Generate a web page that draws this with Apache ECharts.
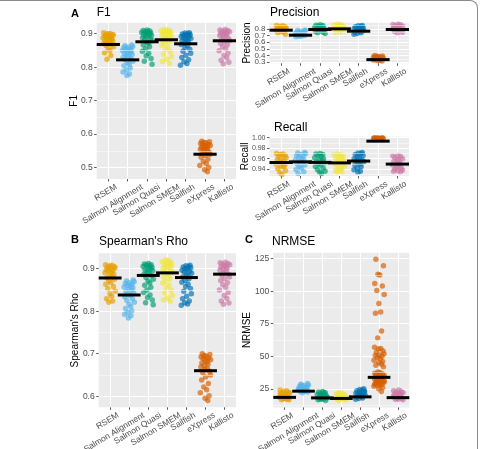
<!DOCTYPE html>
<html>
<head>
<meta charset="utf-8">
<script src="https://cdn.jsdelivr.net/npm/echarts@6/dist/echarts.min.js"></script>
<style>
html,body{margin:0;padding:0;background:#fff;}
#chart{width:480px;height:449px;}
#frame{position:absolute;left:-2px;top:0;width:480px;height:449px;box-sizing:border-box;border-top:1px solid #8a8a8a;border-right:1px solid #8a8a8a;border-top-right-radius:8px;pointer-events:none;}
</style>
</head>
<body>
<div id="chart"></div>
<div id="frame"></div>
<script>
var methods = ['RSEM', 'Salmon Alignment', 'Salmon Quasi', 'Salmon SMEM', 'Sailfish', 'eXpress', 'Kallisto'];
var colors = ['#E69F00', '#56B4E9', '#009E73', '#F0E442', '#0072B2', '#D55E00', '#CC79A7'];
// horizontal jitter offsets (in category units), read by eye
var jitter = [-0.24, 0.09, -0.04, 0.21, -0.14, 0.26, 0.01, -0.20, 0.15, -0.09, 0.06, -0.27, 0.19, -0.02,
	0.12, -0.17, 0.23, -0.06, 0.04, -0.23, 0.17, -0.12, 0.27, -0.01, 0.08, -0.19, 0.13, -0.07];

// F1
var f1Values = [
	[0.903,0.901,0.900,0.898,0.897,0.896,0.894,0.893,0.891,0.890,0.888,0.887,0.885,0.884,0.882,0.880,0.878,0.876,0.874,0.871,0.868,0.865,0.861,0.856,0.850,0.843,0.835,0.824],
	[0.866,0.864,0.862,0.860,0.858,0.856,0.854,0.852,0.850,0.848,0.846,0.844,0.841,0.838,0.835,0.832,0.829,0.826,0.822,0.818,0.814,0.809,0.804,0.798,0.792,0.786,0.780,0.775],
	[0.911,0.910,0.908,0.907,0.905,0.904,0.902,0.901,0.899,0.897,0.895,0.893,0.891,0.888,0.885,0.882,0.879,0.875,0.871,0.866,0.861,0.855,0.848,0.841,0.834,0.826,0.818,0.809],
	[0.913,0.911,0.910,0.908,0.907,0.905,0.904,0.902,0.900,0.898,0.896,0.894,0.892,0.889,0.886,0.883,0.879,0.875,0.870,0.865,0.859,0.853,0.846,0.839,0.831,0.824,0.817,0.811],
	[0.903,0.902,0.900,0.899,0.897,0.896,0.894,0.892,0.890,0.888,0.886,0.884,0.881,0.878,0.875,0.872,0.868,0.864,0.859,0.854,0.848,0.842,0.836,0.829,0.822,0.816,0.811,0.806],
	[0.579,0.577,0.575,0.574,0.572,0.570,0.568,0.566,0.564,0.562,0.560,0.558,0.556,0.554,0.552,0.549,0.546,0.543,0.540,0.536,0.531,0.525,0.518,0.512,0.506,0.500,0.494,0.488],
	[0.913,0.911,0.910,0.908,0.906,0.905,0.903,0.901,0.899,0.897,0.895,0.892,0.889,0.886,0.883,0.879,0.875,0.871,0.866,0.861,0.855,0.849,0.842,0.835,0.828,0.821,0.815,0.810]
];
var f1Means = [0.868, 0.822, 0.876, 0.882, 0.870, 0.540, 0.879];
var f1Ticks = [0.5, 0.6, 0.7, 0.8, 0.9];
var f1Minor = [0.55, 0.65, 0.75, 0.85];

// Precision
var precValues = [
	[0.85,0.845,0.84,0.83,0.82,0.815,0.81,0.80,0.795,0.79,0.785,0.78,0.77,0.76,0.75,0.74,0.72],
	[0.78,0.775,0.77,0.76,0.75,0.745,0.74,0.73,0.725,0.72,0.715,0.71,0.705,0.70,0.695,0.69,0.68],
	[0.86,0.855,0.85,0.84,0.83,0.825,0.82,0.81,0.80,0.795,0.79,0.78,0.77,0.76,0.75,0.74,0.73],
	[0.87,0.865,0.86,0.85,0.84,0.835,0.83,0.82,0.81,0.805,0.80,0.79,0.78,0.77,0.76,0.755,0.75],
	[0.85,0.845,0.84,0.83,0.82,0.815,0.81,0.80,0.79,0.78,0.775,0.77,0.76,0.75,0.74,0.73,0.72],
	[0.40,0.395,0.39,0.385,0.38,0.375,0.37,0.365,0.36,0.355,0.35,0.345,0.34,0.335,0.33,0.325,0.32],
	[0.87,0.865,0.86,0.85,0.84,0.835,0.83,0.82,0.81,0.80,0.795,0.79,0.78,0.77,0.76,0.75,0.74]
];
var precMeans = [0.78, 0.705, 0.79, 0.80, 0.765, 0.34, 0.79];
var precTicks = [0.3, 0.4, 0.5, 0.6, 0.7, 0.8];
var precMinor = [0.35, 0.45, 0.55, 0.65, 0.75, 0.85];

// Recall
var recValues = [
	[0.970,0.969,0.968,0.966,0.964,0.962,0.960,0.958,0.956,0.954,0.952,0.950,0.948,0.946,0.944,0.941,0.937,0.933,0.930],
	[0.972,0.971,0.970,0.968,0.966,0.964,0.962,0.960,0.958,0.956,0.954,0.952,0.950,0.948,0.945,0.942,0.939,0.935,0.932],
	[0.970,0.969,0.968,0.966,0.964,0.962,0.960,0.958,0.956,0.954,0.952,0.950,0.948,0.945,0.942,0.939,0.936,0.934,0.932],
	[0.969,0.968,0.967,0.965,0.963,0.961,0.959,0.957,0.955,0.953,0.951,0.949,0.947,0.945,0.942,0.940,0.937,0.935,0.934],
	[0.972,0.971,0.970,0.968,0.966,0.964,0.962,0.960,0.958,0.956,0.954,0.952,0.950,0.948,0.945,0.942,0.939,0.936,0.934],
	[1.000,0.9998,0.9996,0.9994,0.9992,0.999,0.9988,0.9986,0.9984,0.9982,0.998,0.9978,0.9976],
	[0.966,0.965,0.964,0.962,0.960,0.958,0.956,0.954,0.952,0.950,0.948,0.946,0.944,0.942,0.940,0.938,0.937,0.936,0.935]
];
var recMeans = [0.9527, 0.9540, 0.9530, 0.9520, 0.9555, 0.9935, 0.9497];
var recTicks = [0.94, 0.96, 0.98, 1.00];
var recMinor = [0.93, 0.95, 0.97, 0.99];

// Spearman's Rho
var rhoValues = [
	[0.909,0.908,0.906,0.905,0.903,0.902,0.900,0.898,0.896,0.894,0.892,0.890,0.887,0.884,0.881,0.878,0.875,0.871,0.867,0.863,0.858,0.853,0.847,0.841,0.835,0.829,0.824,0.821],
	[0.873,0.871,0.869,0.867,0.865,0.863,0.861,0.859,0.857,0.855,0.852,0.849,0.846,0.843,0.840,0.837,0.833,0.829,0.825,0.821,0.816,0.811,0.806,0.801,0.797,0.793,0.789,0.784],
	[0.912,0.911,0.909,0.908,0.906,0.905,0.903,0.901,0.899,0.897,0.895,0.892,0.889,0.886,0.883,0.879,0.875,0.871,0.866,0.861,0.856,0.850,0.844,0.838,0.832,0.826,0.820,0.815],
	[0.921,0.919,0.917,0.915,0.913,0.911,0.909,0.907,0.905,0.903,0.900,0.897,0.894,0.891,0.888,0.884,0.880,0.876,0.871,0.866,0.861,0.855,0.849,0.843,0.837,0.831,0.827,0.823],
	[0.908,0.907,0.905,0.904,0.902,0.900,0.898,0.896,0.894,0.892,0.889,0.886,0.883,0.880,0.876,0.872,0.868,0.863,0.858,0.853,0.847,0.841,0.835,0.829,0.824,0.820,0.817,0.814],
	[0.700,0.698,0.696,0.694,0.692,0.690,0.688,0.686,0.684,0.681,0.678,0.675,0.672,0.669,0.666,0.663,0.659,0.655,0.650,0.645,0.638,0.630,0.622,0.615,0.608,0.601,0.595,0.590],
	[0.915,0.914,0.912,0.911,0.909,0.907,0.905,0.903,0.901,0.899,0.896,0.893,0.890,0.887,0.884,0.880,0.876,0.872,0.867,0.862,0.856,0.850,0.844,0.837,0.830,0.824,0.819,0.816]
];
var rhoMeans = [0.878, 0.838, 0.884, 0.890, 0.879, 0.660, 0.887];
var rhoTicks = [0.6, 0.7, 0.8, 0.9];
var rhoMinor = [0.65, 0.75, 0.85];

// NRMSE
var nrmseValues = [
	[24,23.5,23,22.5,22,21.5,21,20.5,20,19.5,19,18.5,18,17.5,17,16.5,16.5,17.5,19,21],
	[29,28.5,28,27.5,27,26.5,26,25.5,25,24.5,24,23.5,23,22.5,22,23,25,27,28],
	[23,22.5,22,21.5,21,20.5,20,19.5,19,18.5,18,17.5,17,16.5,16,17,18.5,20,22],
	[22,21.5,21,20.5,20,19.5,19,18.5,18,17.5,17,16.5,16,17,18,19.5,21],
	[25,24.5,24,23.5,23,22.5,22,21.5,21,20.5,20,19.5,19,18.5,18,17.5,17,19,21,23],
	[124.5,119.5,113,112.5,106,104,100.5,97.5,90.5,84,83,69.5,64,57,56,55.5,54,53,52,51,50.5,50,49,48,47,46,45,44,43,42,
	 38,37.5,37,36.5,36,35.5,35,34.5,34,33.5,33,32.5,32,31.5,31,30.5,30,29.5,29,28.5,28,27.5,27,26,25,23,
	 36,34,32,30,28.5,35,33,31],
	[24,23.5,23,22.5,22,21.5,21,20.5,20,19.5,19,18.5,18,17.5,17,16.5,17,19,21]
];
var nrmseMeans = [18.4, 23.2, 18.0, 17.6, 18.8, 33.8, 18.2];
var nrmseTicks = [25, 50, 75, 100, 125];
var nrmseMinor = [12.5, 37.5, 62.5, 87.5, 112.5];

var catTicks = [1, 2, 3, 4, 5, 6, 7];

var panels = [
	{ grid: { left: 96.7, top: 22.7, width: 139.3, height: 156.3 }, values: f1Values, means: f1Means, ticks: f1Ticks, minor: f1Minor,
	  min: 0.466, max: 0.933, name: 'F1', gap: 17, dec: 1, fs: 8.5 },
	{ grid: { left: 269.5, top: 22.7, width: 139.5, height: 40.6 }, values: precValues, means: precMeans, ticks: precTicks, minor: precMinor,
	  min: 0.285, max: 0.892, name: 'Precision', gap: 17.5, dec: 1, fs: 8 },
	{ grid: { left: 269.5, top: 136.7, width: 139.5, height: 39.3 }, values: recValues, means: recMeans, ticks: recTicks, minor: recMinor,
	  min: 0.927, max: 1.002, name: 'Recall', gap: 19.5, dec: 2, fs: 7 },
	{ grid: { left: 98.7, top: 253.3, width: 137.3, height: 154 }, values: rhoValues, means: rhoMeans, ticks: rhoTicks, minor: rhoMinor,
	  min: 0.574, max: 0.936, name: "Spearman's Rho", gap: 18, dec: 1, fs: 8.5 },
	{ grid: { left: 273.3, top: 252.7, width: 136, height: 154.7 }, values: nrmseValues, means: nrmseMeans, ticks: nrmseTicks, minor: nrmseMinor,
	  min: 10.7, max: 129.6, name: 'NRMSE', gap: 21, dec: 0, fs: 8.5 }
];

// text width for rotated category labels
var measure = document.createElement('canvas').getContext('2d');
measure.font = '8.5px "Liberation Sans"';
var labelRot = 31 * Math.PI / 180;

var grids = [], xAxes = [], yAxes = [], series = [];

panels.forEach(function (p, i) {
	grids.push(Object.assign({ show: true, backgroundColor: '#EBEBEB', borderWidth: 0 }, p.grid));
	xAxes.push({
		gridIndex: i, type: 'value', min: 0.4, max: 7.6,
		axisLine: { show: false },
		axisTick: { customValues: catTicks, length: 2.5, lineStyle: { color: '#333', width: 0.8 } },
		axisLabel: { show: false },
		splitLine: { show: true, lineStyle: { color: '#fff', width: 1 } }
	});
	yAxes.push({
		gridIndex: i, type: 'value', min: p.min, max: p.max,
		name: p.name, nameLocation: 'middle', nameGap: p.gap,
		nameTextStyle: { fontSize: 10, color: '#000' },
		axisLine: { show: false },
		axisTick: { customValues: p.ticks, length: 2.5, lineStyle: { color: '#333', width: 0.8 } },
		axisLabel: { show: false },
		splitLine: { show: true, lineStyle: { color: '#fff', width: 1 } }
	});
	// minor grid lines
	series.push({
		type: 'line', xAxisIndex: i, yAxisIndex: i, data: [], z: 1, silent: true,
		markLine: {
			silent: true, symbol: 'none', label: { show: false },
			lineStyle: { color: '#fff', width: 0.5, type: 'solid' },
			data: p.minor.map(function (v) { return { yAxis: v }; })
		}
	});
	p.values.forEach(function (vals, c) {
		series.push({
			type: 'scatter', xAxisIndex: i, yAxisIndex: i, silent: true, z: 2,
			symbolSize: 5.5,
			itemStyle: { color: colors[c], opacity: 0.68 },
			data: vals.map(function (v, j) {
				return [c + 1 + jitter[(j + c * 3) % jitter.length], v];
			})
		});
	});
	// black mean bars
	series.push({
		type: 'custom', xAxisIndex: i, yAxisIndex: i, silent: true, z: 5,
		data: p.means.map(function (m, c) { return [c + 1, m]; }),
		renderItem: function (params, api) {
			var a = api.coord([api.value(0) - 0.6, api.value(1)]);
			var b = api.coord([api.value(0) + 0.6, api.value(1)]);
			return { type: 'line', shape: { x1: a[0], y1: a[1], x2: b[0], y2: b[1] }, style: { stroke: '#000', lineWidth: 3 } };
		}
	});
	// rotated category labels under the panel
	series.push({
		type: 'custom', xAxisIndex: i, yAxisIndex: i, silent: true, clip: false, z: 5,
		data: catTicks.map(function (c) { return [c, p.min]; }),
		renderItem: function (params, api) {
			var name = methods[api.value(0) - 1];
			var w = measure.measureText(name).width;
			var pt = api.coord([api.value(0), api.value(1)]);
			return {
				type: 'text', x: pt[0] + 2 + 0.15 * w, y: pt[1] + 3.5, rotation: labelRot,
				style: { text: name, fill: '#4D4D4D', fontSize: 8.5, fontFamily: 'Liberation Sans', align: 'right', verticalAlign: 'top' }
			};
		}
	});
	// y tick labels (all of them, even where they touch)
	series.push({
		type: 'custom', xAxisIndex: i, yAxisIndex: i, silent: true, clip: false, z: 5,
		data: p.ticks.map(function (t) { return [0.4, t]; }),
		renderItem: function (params, api) {
			var pt = api.coord([api.value(0), api.value(1)]);
			return {
				type: 'text', x: pt[0] - 4, y: pt[1],
				style: { text: api.value(1).toFixed(p.dec), fill: '#4D4D4D', fontSize: p.fs, fontFamily: 'Liberation Sans', align: 'right', verticalAlign: 'middle' }
			};
		}
	});
});

function ttl(text, left, top, size, bold) {
	return { text: text, left: left, top: top, padding: 0,
		textStyle: { fontSize: size, fontWeight: bold ? 'bold' : 'normal', color: '#000', fontFamily: 'Liberation Sans' } };
}

var chart = echarts.init(document.getElementById('chart'));
chart.setOption({
	animation: false,
	textStyle: { fontFamily: 'Liberation Sans' },
	title: [
		ttl('A', 71, 8, 11, true), ttl('F1', 96.7, 7, 12),
		ttl('Precision', 270, 7, 12), ttl('Recall', 274, 121.5, 12),
		ttl('B', 71, 234, 11, true), ttl("Spearman's Rho", 99, 235.5, 12),
		ttl('C', 245, 234, 11, true), ttl('NRMSE', 272, 235.5, 12)
	],
	grid: grids,
	xAxis: xAxes,
	yAxis: yAxes,
	series: series
});
</script>
</body>
</html>
